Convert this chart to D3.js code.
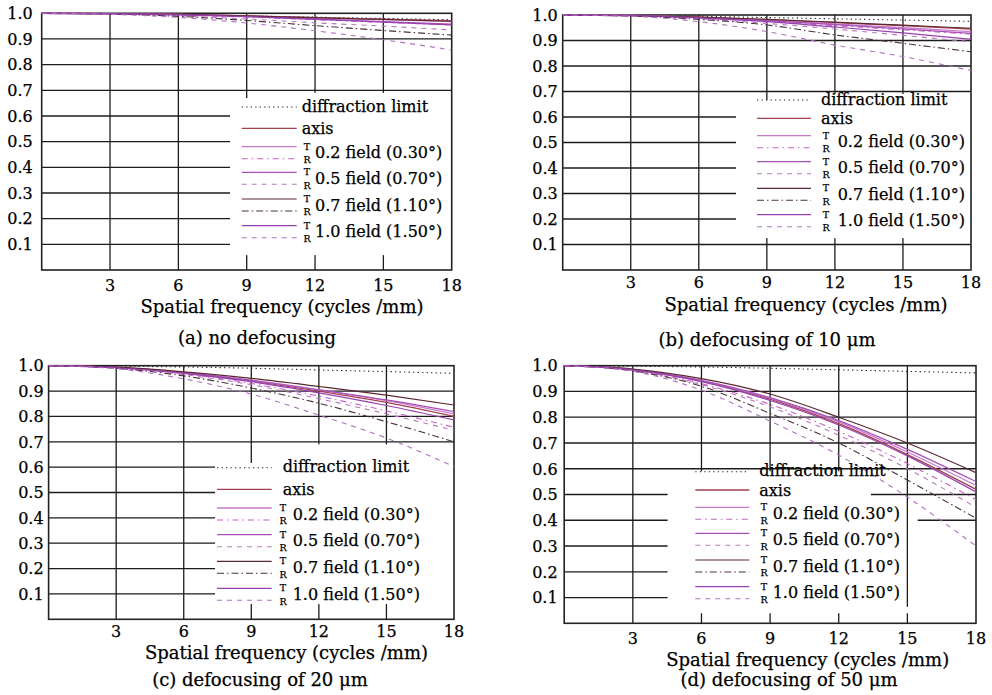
<!DOCTYPE html>
<html>
<head>
<meta charset="utf-8">
<script src="https://cdn.jsdelivr.net/npm/d3@7"></script>
<style>
  body { margin: 0; background: #fff; }
  svg { display: block; }
  text { font-family: "DejaVu Serif", serif; fill: #000; stroke: #000; stroke-width: 0.25; }
</style>
</head>
<body>
<svg width="992" height="695"></svg>
<script>
// spatial frequency samples (cycles/mm)
const freq = [0, 3, 6, 9, 12, 15, 18];
const xTicks = [3, 6, 9, 12, 15, 18];
const yTicks = [0.1, 0.2, 0.3, 0.4, 0.5, 0.6, 0.7, 0.8, 0.9, 1.0];

// series order: diffraction, axis, 0.2T, 0.2R, 0.5T, 0.5R, 0.7T, 0.7R, 1.0T, 1.0R
const fieldLabels = ["0.2 field (0.30°)", "0.5 field (0.70°)", "0.7 field (1.10°)", "1.0 field (1.50°)"];
const captions = ["(a) no defocusing", "(b) defocusing of 10 μm", "(c) defocusing of 20 μm", "(d) defocusing of 50 μm"];
const xTitle = "Spatial frequency (cycles /mm)";

const mtfNoDefocus = [
  [1, 0.998, 0.995, 0.990, 0.985, 0.980, 0.975],
  [1, 0.999, 0.996, 0.990, 0.983, 0.977, 0.971],
  [1, 0.999, 0.996, 0.990, 0.982, 0.975, 0.968],
  [1, 0.998, 0.993, 0.985, 0.975, 0.965, 0.955],
  [1, 0.999, 0.995, 0.988, 0.978, 0.968, 0.958],
  [1, 0.997, 0.990, 0.978, 0.963, 0.950, 0.935],
  [1, 0.999, 0.996, 0.990, 0.983, 0.976, 0.969],
  [1, 0.997, 0.988, 0.972, 0.952, 0.933, 0.915],
  [1, 0.999, 0.995, 0.987, 0.976, 0.966, 0.955],
  [1, 0.996, 0.984, 0.962, 0.932, 0.897, 0.857]
];
const mtfDefocus10 = [
  [1, 0.998, 0.995, 0.990, 0.985, 0.980, 0.975],
  [1, 0.998, 0.992, 0.982, 0.970, 0.958, 0.945],
  [1, 0.998, 0.991, 0.979, 0.965, 0.950, 0.935],
  [1, 0.997, 0.989, 0.975, 0.958, 0.942, 0.925],
  [1, 0.998, 0.990, 0.978, 0.962, 0.945, 0.928],
  [1, 0.996, 0.985, 0.967, 0.945, 0.920, 0.895],
  [1, 0.998, 0.992, 0.983, 0.972, 0.960, 0.948],
  [1, 0.996, 0.983, 0.961, 0.922, 0.889, 0.856],
  [1, 0.998, 0.989, 0.974, 0.953, 0.930, 0.905],
  [1, 0.995, 0.974, 0.935, 0.882, 0.837, 0.782]
];
const mtfDefocus20 = [
  [1, 0.998, 0.995, 0.990, 0.983, 0.977, 0.970],
  [1, 0.993, 0.972, 0.940, 0.900, 0.855, 0.800],
  [1, 0.993, 0.973, 0.943, 0.905, 0.862, 0.810],
  [1, 0.992, 0.968, 0.930, 0.880, 0.822, 0.757],
  [1, 0.993, 0.973, 0.942, 0.905, 0.865, 0.819],
  [1, 0.991, 0.965, 0.925, 0.870, 0.810, 0.745],
  [1, 0.994, 0.976, 0.950, 0.918, 0.884, 0.845],
  [1, 0.990, 0.960, 0.912, 0.852, 0.779, 0.700],
  [1, 0.992, 0.970, 0.937, 0.893, 0.843, 0.786],
  [1, 0.988, 0.948, 0.888, 0.805, 0.715, 0.602]
];
const mtfDefocus50 = [
  [1, 0.998, 0.995, 0.990, 0.984, 0.978, 0.972],
  [1, 0.984, 0.940, 0.870, 0.775, 0.655, 0.520],
  [1, 0.985, 0.942, 0.874, 0.782, 0.665, 0.535],
  [1, 0.982, 0.930, 0.850, 0.745, 0.620, 0.480],
  [1, 0.985, 0.943, 0.876, 0.787, 0.675, 0.550],
  [1, 0.981, 0.926, 0.840, 0.730, 0.600, 0.450],
  [1, 0.987, 0.950, 0.890, 0.800, 0.700, 0.585],
  [1, 0.980, 0.920, 0.815, 0.700, 0.556, 0.408],
  [1, 0.984, 0.938, 0.865, 0.770, 0.650, 0.510],
  [1, 0.978, 0.905, 0.785, 0.653, 0.490, 0.300]
];

// line styles, same order as the series rows
const styles = [
  { color: "#222", width: 1.1, dash: "1.3,3.2" },
  { color: "#a3404f", width: 1.3, dash: null },
  { color: "#c87ac8", width: 1.3, dash: null },
  { color: "#c860c8", width: 1.1, dash: "6,4,1.5,4" },
  { color: "#a850b8", width: 1.2, dash: null },
  { color: "#b878c0", width: 1.1, dash: "5,5" },
  { color: "#5a2830", width: 1.2, dash: null },
  { color: "#4a3040", width: 1.1, dash: "7,3,1.5,3" },
  { color: "#9840b0", width: 1.2, dash: null },
  { color: "#b070c0", width: 1.1, dash: "5,5" }
];

const panels = [
  { data: mtfNoDefocus, caption: captions[0],
    left: 41.7, right: 451.7, top: 13.3, bottom: 270, gap: 9,
    tickY: 285, titleX: 282, titleY: 306.7, capX: 257, capY: 338,
    mask: { x0: 8.27, x1: 18, y0: 0.058, y1: 0.69 },
    extra: [{ v: 9, from: 0.67, to: 0.69 }],
    legend: { lx0: 241.7, lx1: 296.7, tx: 301.7, trx: 307, fx: 315, rows: [106, 128.3, 152.7, 178.3, 205, 231.7] } },
  { data: mtfDefocus10, caption: captions[1],
    left: 562.7, right: 971, top: 15, bottom: 270, gap: 5,
    tickY: 282.7, titleX: 806, titleY: 305, capX: 767, capY: 340,
    mask: { x0: 7.64, x1: 18, y0: 0.125, y1: 0.69 },
    extra: [{ v: 9, from: 0.667, to: 0.69 }],
    legend: { lx0: 757, lx1: 811, tx: 821, trx: 826, fx: 837.7, rows: [99, 118.3, 141.7, 167.7, 194.3, 220.7] } },
  { data: mtfDefocus20, caption: captions[2],
    left: 48.6, right: 454, top: 365.7, bottom: 619.3, gap: 5,
    tickY: 631.7, titleX: 286.5, titleY: 653, capX: 260, capY: 680,
    mask: { x0: 7.39, x1: 18, y0: 0.06, y1: 0.69 },
    extra: [{ v: 9, from: 0.616, to: 0.69 }],
    legend: { lx0: 217, lx1: 271.7, tx: 282.7, trx: 283, fx: 292.7, rows: [466.7, 489.3, 514, 540.7, 567.3, 594.3] } },
  { data: mtfDefocus50, caption: captions[3],
    left: 564.2, right: 976, top: 365.7, bottom: 623.3, gap: 6.6,
    tickY: 638.3, titleX: 807.7, titleY: 660, capX: 789, capY: 680,
    mask: { x0: 4.52, x1: 18, y0: 0.039, y1: 0.59 },
    extra: [{ h: 0.5, from: 13.41, to: 18 }, { h: 0.4, from: 15.45, to: 18 }, { v: 15, from: 0.064, to: 0.59 }],
    legend: { lx0: 695.3, lx1: 749.3, tx: 759.3, trx: 764, fx: 772.7, rows: [470.7, 490, 513.3, 539.3, 566, 592.7] } }
];

const svg = d3.select("svg");
svg.append("rect").attr("width", 992).attr("height", 695).attr("fill", "#fff");

panels.forEach((p, pi) => {
  const x = d3.scaleLinear().domain([0, 18]).range([p.left, p.right]);
  const y = d3.scaleLinear().domain([0, 1]).range([p.bottom, p.top]);
  const g = svg.append("g");
  const gridColor = "#1c1c1c";

  // grid
  g.selectAll(".hg").data(yTicks.slice(0, 9)).join("line")
    .attr("x1", p.left).attr("x2", p.right)
    .attr("y1", d => y(d)).attr("y2", d => y(d))
    .attr("stroke", gridColor).attr("stroke-width", 1.3);
  g.selectAll(".vg").data(xTicks.slice(0, 5)).join("line")
    .attr("x1", d => x(d)).attr("x2", d => x(d))
    .attr("y1", p.top).attr("y2", p.bottom)
    .attr("stroke", gridColor).attr("stroke-width", 1.3);

  // legend background hides part of the grid
  g.append("rect")
    .attr("x", x(p.mask.x0)).attr("y", y(p.mask.y1))
    .attr("width", x(p.mask.x1) - x(p.mask.x0))
    .attr("height", y(p.mask.y0) - y(p.mask.y1))
    .attr("fill", "#fff");
  p.extra.forEach(e => {
    const l = g.append("line").attr("stroke", gridColor).attr("stroke-width", 1.3);
    if (e.v !== undefined) {
      l.attr("x1", x(e.v)).attr("x2", x(e.v)).attr("y1", y(e.from)).attr("y2", y(e.to));
    } else {
      l.attr("x1", x(e.from)).attr("x2", x(e.to)).attr("y1", y(e.h)).attr("y2", y(e.h));
    }
  });

  // frame
  g.append("rect")
    .attr("x", p.left).attr("y", p.top)
    .attr("width", p.right - p.left).attr("height", p.bottom - p.top)
    .attr("fill", "none").attr("stroke", "#222").attr("stroke-width", 1.6);

  // curves
  const clipId = "clip" + pi;
  svg.append("clipPath").attr("id", clipId).append("rect")
    .attr("x", p.left).attr("y", p.top - 2)
    .attr("width", p.right - p.left).attr("height", p.bottom - p.top + 2);
  const line = d3.line()
    .x((d, i) => x(freq[i]))
    .y(d => y(d))
    .curve(d3.curveMonotoneX);
  const curves = g.append("g").attr("clip-path", `url(#${clipId})`);
  p.data.forEach((row, si) => {
    const s = styles[si];
    curves.append("path")
      .datum(row)
      .attr("d", line)
      .attr("fill", "none")
      .attr("stroke", s.color)
      .attr("stroke-width", s.width)
      .attr("stroke-dasharray", s.dash);
  });

  // tick labels
  g.selectAll(".xl").data(xTicks).join("text")
    .attr("x", d => x(d)).attr("y", p.tickY).attr("dy", "0.36em")
    .attr("text-anchor", "middle").attr("font-size", 16)
    .text(d => d);
  g.selectAll(".yl").data(yTicks).join("text")
    .attr("x", p.left - p.gap).attr("y", d => y(d)).attr("dy", "0.36em")
    .attr("text-anchor", "end").attr("font-size", 16)
    .text(d => d.toFixed(1));

  g.append("text")
    .attr("x", p.titleX).attr("y", p.titleY).attr("dy", "0.36em")
    .attr("text-anchor", "middle").attr("font-size", 18)
    .text(xTitle);
  g.append("text")
    .attr("x", p.capX).attr("y", p.capY).attr("dy", "0.36em")
    .attr("text-anchor", "middle").attr("font-size", 18)
    .text(p.caption);

  // legend
  const lg = p.legend;
  const sample = (yy, s) => g.append("line")
    .attr("x1", lg.lx0).attr("x2", lg.lx1).attr("y1", yy).attr("y2", yy)
    .attr("stroke", s.color).attr("stroke-width", s.width)
    .attr("stroke-dasharray", s.dash);
  sample(lg.rows[0] + 1, styles[0]);
  sample(lg.rows[1], styles[1]);
  g.append("text").attr("x", lg.tx).attr("y", lg.rows[0]).attr("dy", "0.36em")
    .attr("font-size", 16).text("diffraction limit");
  g.append("text").attr("x", lg.tx).attr("y", lg.rows[1]).attr("dy", "0.36em")
    .attr("font-size", 16).text("axis");
  fieldLabels.forEach((lab, k) => {
    const cy = lg.rows[k + 2];
    sample(cy - 6, styles[2 + k * 2]);
    sample(cy + 6, styles[3 + k * 2]);
    g.append("text").attr("x", lg.trx).attr("y", cy - 6.5).attr("dy", "0.36em")
      .attr("text-anchor", "middle").attr("font-size", 9.5).attr("stroke-width", 0.15).text("T");
    g.append("text").attr("x", lg.trx).attr("y", cy + 7).attr("dy", "0.36em")
      .attr("text-anchor", "middle").attr("font-size", 9.5).attr("stroke-width", 0.15).text("R");
    g.append("text").attr("x", lg.fx).attr("y", cy).attr("dy", "0.36em")
      .attr("font-size", 16).text(lab);
  });
});
</script>
</body>
</html>
